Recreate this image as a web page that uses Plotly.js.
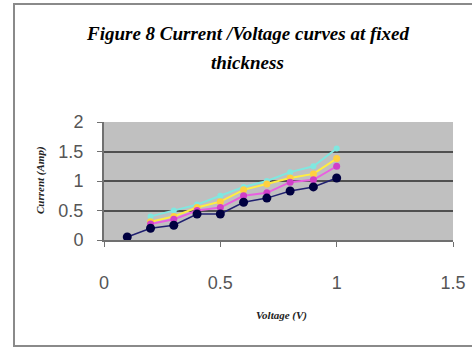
<!DOCTYPE html>
<html>
<head>
<meta charset="utf-8">
<script src="https://cdn.plot.ly/plotly-3.0.1.min.js"></script>
<style>html,body{margin:0;padding:0;background:#fff;}#chart{width:472px;height:347px;}</style>
</head>
<body>
<div id="chart"></div>
<script>
// Data
const voltage = [0.1, 0.2, 0.3, 0.4, 0.5, 0.6, 0.7, 0.8, 0.9, 1.0];
const voltageB = [0.2, 0.3, 0.4, 0.5, 0.6, 0.7, 0.8, 0.9, 1.0];
const seriesNavy = [0.05, 0.20, 0.25, 0.44, 0.44, 0.64, 0.71, 0.83, 0.90, 1.05];
const seriesMagenta = [0.27, 0.35, 0.50, 0.55, 0.75, 0.80, 0.98, 1.02, 1.25];
const seriesYellow = [0.31, 0.40, 0.55, 0.65, 0.85, 0.95, 1.05, 1.12, 1.38];
const seriesCyan = [0.40, 0.50, 0.60, 0.75, 0.90, 1.00, 1.15, 1.25, 1.55];
const xTicks = [0, 0.5, 1, 1.5];
const yTicks = [0, 0.5, 1, 1.5, 2];
const titleLine1 = "Figure 8 Current /Voltage curves at fixed";
const titleLine2 = "thickness";
const xTitle = "Voltage (V)";
const yTitle = "Current (Amp)";

const traces = [
  {x: voltageB, y: seriesCyan, mode: 'lines+markers', line: {color: '#7fe8e0', width: 2}, marker: {color: '#7fe8e0', size: 6}},
  {x: voltageB, y: seriesYellow, mode: 'lines+markers', line: {color: '#ffee40', width: 2}, marker: {color: '#ffd040', size: 7}},
  {x: voltageB, y: seriesMagenta, mode: 'lines+markers', line: {color: '#e860e0', width: 2}, marker: {color: '#d040c8', size: 7}},
  {x: voltage, y: seriesNavy, mode: 'lines+markers', line: {color: '#202070', width: 1.5}, marker: {color: '#000040', size: 9}}
];

// plot area pixel bounds: left 104, right 453, top 122, bottom 240
const L = 104, R = 19, T = 122, B = 107;
const W = 472 - L - R, H = 347 - T - B;
const px = v => (v - L) / W;
const py = v => (347 - B - v) / H;

const titleFont = {family: 'Liberation Serif', size: 19, color: '#000'};
const layout = {
  width: 472, height: 347,
  margin: {l: L, r: R, t: T, b: B, pad: 0},
  paper_bgcolor: '#ffffff',
  plot_bgcolor: '#c0c0c0',
  showlegend: false,
  xaxis: {
    range: [0, 1.5], tickvals: xTicks, ticktext: xTicks.map(String),
    showgrid: false, zeroline: false, showline: true, linecolor: '#707070', linewidth: 2,
    ticks: 'outside', ticklen: 5, tickcolor: '#707070', tickwidth: 1,
    tickfont: {family: 'Liberation Sans', size: 18, color: '#555'},
    ticklabelstandoff: 20
  },
  yaxis: {
    range: [0, 2], tickvals: yTicks, ticktext: yTicks.map(String),
    showgrid: true, gridcolor: '#505050', gridwidth: 2,
    zeroline: false, showline: true, linecolor: '#707070', linewidth: 2,
    ticks: 'outside', ticklen: 5, tickcolor: '#707070', tickwidth: 1,
    tickfont: {family: 'Liberation Sans', size: 18, color: '#555'},
    ticklabelstandoff: 10
  },
  annotations: [
    {text: '<b><i>' + titleLine1 + '</i></b>', xref: 'paper', yref: 'paper', x: px(247), y: py(33), xanchor: 'center', yanchor: 'middle', showarrow: false, font: titleFont},
    {text: '<b><i>' + titleLine2 + '</i></b>', xref: 'paper', yref: 'paper', x: px(247), y: py(62), xanchor: 'center', yanchor: 'middle', showarrow: false, font: titleFont},
    {text: '<b><i>' + xTitle + '</i></b>', xref: 'paper', yref: 'paper', x: px(281), y: py(315), xanchor: 'center', yanchor: 'middle', showarrow: false, font: {family: 'Liberation Serif', size: 11, color: '#222'}},
    {text: '<b><i>' + yTitle + '</i></b>', xref: 'paper', yref: 'paper', x: px(40), y: py(180), xanchor: 'center', yanchor: 'middle', textangle: -90, showarrow: false, font: {family: 'Liberation Serif', size: 11, color: '#222'}}
  ],
  shapes: [
    {type: 'rect', xref: 'paper', yref: 'paper', x0: px(14), x1: px(480), y0: py(346), y1: py(4), line: {color: '#8a8a8a', width: 2}, fillcolor: 'rgba(0,0,0,0)', layer: 'below'}
  ]
};

Plotly.newPlot('chart', traces, layout, {displayModeBar: false, staticPlot: true});
</script>
</body>
</html>
